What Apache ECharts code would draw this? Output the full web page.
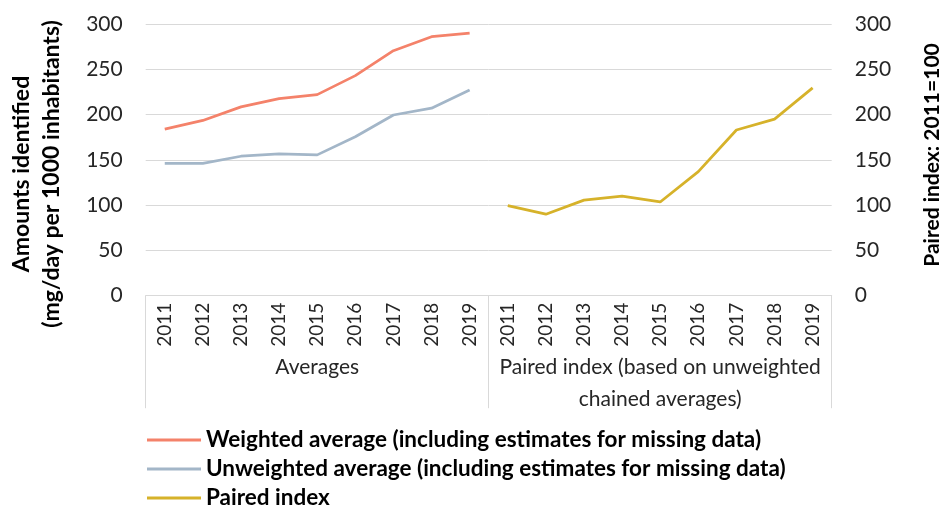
<!DOCTYPE html>
<html>
<head>
<meta charset="utf-8">
<script src="https://cdn.jsdelivr.net/npm/echarts@6/dist/echarts.min.js"></script>
<style>
html,body{margin:0;padding:0;background:#fff;}
#chart{width:941px;height:507px;}
</style>
</head>
<body>
<div id="chart"></div>
<script>
const years = ['2011','2012','2013','2014','2015','2016','2017','2018','2019',
               '2011','2012','2013','2014','2015','2016','2017','2018','2019'];
const groups = ['Averages', 'Paired index (based on unweighted\nchained averages)'];
const weighted   = [184, 193.5, 208.5, 217.5, 222, 243, 270.5, 286, 290, null, null, null, null, null, null, null, null, null];
const unweighted = [146, 146, 154, 156.5, 155.5, 175.5, 199.5, 207, 227, null, null, null, null, null, null, null, null, null];
const paired     = [null, null, null, null, null, null, null, null, null, 99.5, 90, 105.5, 110, 103.5, 137, 183, 195, 229.5];
const seriesNames = ['Weighted average (including estimates for missing data)',
                     'Unweighted average (including estimates for missing data)',
                     'Paired index'];
const leftTitle = 'Amounts identified\n(mg/day per 1000 inhabitants)';
const rightTitle = 'Paired index: 2011=100';

const FONT = 'Lato';
const TXT = '#262626';
const GRID = '#d9d9d9';

const chart = echarts.init(document.getElementById('chart'), null, {renderer: 'canvas'});
chart.setOption({
  animation: false,
  textStyle: {fontFamily: FONT},
  grid: {left: 145.7, right: 109.3, top: 24, bottom: 211.3, containLabel: false},
  xAxis: [{
    type: 'category', data: years, boundaryGap: true,
    axisLine: {show: true, lineStyle: {color: GRID, width: 1}},
    axisTick: {show: false},
    axisLabel: {rotate: 90, margin: 7, fontSize: 19, color: TXT, fontFamily: FONT, interval: 0},
    splitLine: {show: false}
  }, {
    type: 'category', data: groups, boundaryGap: true, position: 'bottom',
    axisLine: {show: false},
    axisTick: {show: true, length: 112.5, interval: 0, lineStyle: {color: GRID, width: 1}},
    axisLabel: {margin: 56, fontSize: 21, lineHeight: 32, color: TXT, fontFamily: FONT, interval: 0, align: 'center'},
    splitLine: {show: false}
  }],
  yAxis: [{
    type: 'value', min: 0, max: 300, interval: 50, position: 'left',
    axisLine: {show: false}, axisTick: {show: false},
    axisLabel: {margin: 23, fontSize: 21, color: TXT, fontFamily: FONT},
    splitLine: {show: true, lineStyle: {color: GRID, width: 1}}
  }, {
    type: 'value', min: 0, max: 300, interval: 50, position: 'right',
    axisLine: {show: false}, axisTick: {show: false},
    axisLabel: {margin: 23, fontSize: 21, color: TXT, fontFamily: FONT},
    splitLine: {show: false}
  }],
  legend: {
    orient: 'vertical', left: 147, top: 428, height: 120, padding: 0,
    icon: 'rect', itemWidth: 54, itemHeight: 3, itemGap: 5,
    textStyle: {fontSize: 22.5, fontWeight: 'bold', color: '#000', fontFamily: FONT, lineHeight: 24},
    data: seriesNames
  },
  series: [{
    name: seriesNames[0], type: 'line', data: weighted, xAxisIndex: 0, yAxisIndex: 0,
    showSymbol: false, symbol: 'none', connectNulls: false,
    lineStyle: {color: '#F4826A', width: 2.75}, itemStyle: {color: '#F4826A'}
  }, {
    name: seriesNames[1], type: 'line', data: unweighted, xAxisIndex: 0, yAxisIndex: 0,
    showSymbol: false, symbol: 'none',
    lineStyle: {color: '#A3B6C8', width: 2.75}, itemStyle: {color: '#A3B6C8'}
  }, {
    name: seriesNames[2], type: 'line', data: paired, xAxisIndex: 0, yAxisIndex: 1,
    showSymbol: false, symbol: 'none',
    lineStyle: {color: '#D6B22A', width: 2.75}, itemStyle: {color: '#D6B22A'}
  }],
  graphic: [{
    type: 'text', x: 37, y: 174, rotation: Math.PI / 2,
    style: {text: leftTitle, x: 0, y: 0, align: 'center', verticalAlign: 'middle',
            fontSize: 23, fontWeight: 'bold', lineHeight: 30, fill: '#000', fontFamily: FONT}
  }, {
    type: 'text', x: 932, y: 155, rotation: Math.PI / 2,
    style: {text: rightTitle, x: 0, y: 0, align: 'center', verticalAlign: 'middle',
            fontSize: 21, fontWeight: 'bold', fill: '#000', fontFamily: FONT}
  }]
});
</script>
</body>
</html>
